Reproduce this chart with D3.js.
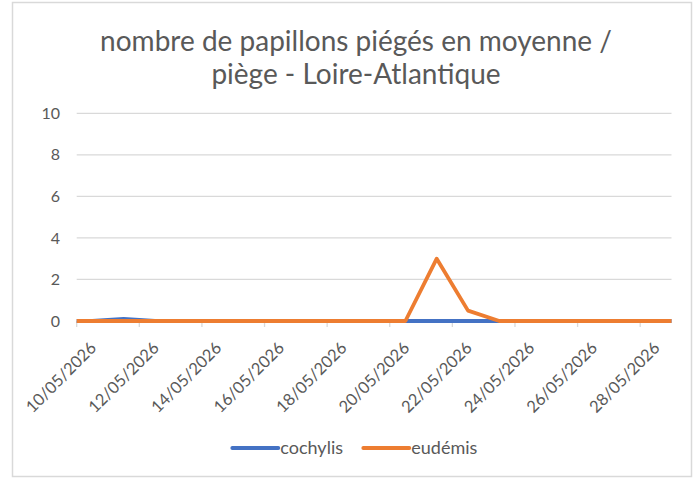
<!DOCTYPE html>
<html>
<head>
<meta charset="utf-8">
<script src="https://cdn.jsdelivr.net/npm/d3@7"></script>
<style>
  body { margin: 0; background: #fff; }
  svg text { font-family: Lato, "Noto Sans", sans-serif; fill: #595959; }
</style>
</head>
<body>
<div id="chart"></div>
<script>
// Data
var dates = ["10/05/2026","11/05/2026","12/05/2026","13/05/2026","14/05/2026","15/05/2026",
  "16/05/2026","17/05/2026","18/05/2026","19/05/2026","20/05/2026","21/05/2026","22/05/2026",
  "23/05/2026","24/05/2026","25/05/2026","26/05/2026","27/05/2026","28/05/2026"];
var cochylis = [0,0.1,0,0,0,0,0,0,0,0,0,0,0,0,0,0,0,0,0];
var eudemis  = [0,0,0,0,0,0,0,0,0,0,0,3,0.5,0,0,0,0,0,0];
var yTicks = [0,2,4,6,8,10];
var seriesNames = ["cochylis","eudémis"];
var colors = ["#4472C4","#ED7D31"];

var W = 696, H = 479;
var plot = {left: 76.7, right: 671.5, top: 113.3, bottom: 321};

var svg = d3.select("#chart").append("svg")
  .attr("width", W).attr("height", H);

// chart frame
svg.append("rect")
  .attr("x", 12.5).attr("y", 2.5)
  .attr("width", 679).attr("height", 474)
  .attr("fill", "#fff").attr("stroke", "#D9D9D9").attr("stroke-width", 1.5);

// title
var title = svg.append("text")
  .attr("text-anchor", "middle")
  .style("font-size", "28px");
title.append("tspan").attr("x", 356).attr("y", 51).text("nombre de papillons piégés en moyenne /");
title.append("tspan").attr("x", 356).attr("y", 84).text("piège - Loire-Atlantique");

var x = d3.scaleBand()
  .domain(dates)
  .range([plot.left, plot.right])
  .padding(0);

var y = d3.scaleLinear()
  .domain([0, 10])
  .range([plot.bottom, plot.top]);

// gridlines
svg.append("g")
  .selectAll("line")
  .data(yTicks)
  .enter().append("line")
    .attr("x1", plot.left).attr("x2", plot.right)
    .attr("y1", d => y(d)).attr("y2", d => y(d))
    .attr("stroke", "#D9D9D9").attr("stroke-width", 1.3);

// y labels
svg.append("g")
  .selectAll("text")
  .data(yTicks)
  .enter().append("text")
    .attr("x", 60)
    .attr("y", d => y(d))
    .attr("dy", "0.35em")
    .attr("text-anchor", "end")
    .style("font-size", "16px")
    .text(d => d);

// x ticks every 2 days at category boundaries
var labelled = dates.filter((d, i) => i % 2 === 0);
svg.append("g")
  .selectAll("line")
  .data(labelled)
  .enter().append("line")
    .attr("x1", d => x(d)).attr("x2", d => x(d))
    .attr("y1", plot.bottom).attr("y2", plot.bottom + 6)
    .attr("stroke", "#D9D9D9").attr("stroke-width", 1.3);

svg.append("g")
  .selectAll("text")
  .data(labelled)
  .enter().append("text")
    .attr("text-anchor", "end")
    .attr("transform", d => `translate(${x(d) + x.bandwidth() / 2 + 5},${plot.bottom + 28}) rotate(-45)`)
    .style("font-size", "16.5px")
    .text(d => d);

// lines: Excel date axis runs the line out to the plot edges
function linePoints(vals) {
  var pts = vals.map((v, i) => [x(dates[i]) + x.bandwidth() / 2, y(v)]);
  pts.unshift([plot.left, y(vals[0])]);
  pts.push([plot.right, y(vals[vals.length - 1])]);
  return pts;
}
var line = d3.line();
[cochylis, eudemis].forEach(function(vals, k) {
  svg.append("path")
    .attr("d", line(linePoints(vals)))
    .attr("fill", "none")
    .attr("stroke", colors[k])
    .attr("stroke-width", 3.8)
    .attr("stroke-linejoin", "round");
});

// legend
var legendX = [232.3, 363.3];
seriesNames.forEach(function(name, k) {
  var g = svg.append("g").attr("transform", `translate(${legendX[k]},448)`);
  g.append("line")
    .attr("x1", 0).attr("x2", 46)
    .attr("stroke", colors[k]).attr("stroke-width", 3.8)
    .attr("stroke-linecap", "round");
  g.append("text")
    .attr("x", 48).attr("dy", "0.35em")
    .style("font-size", "18px")
    .text(name);
});
</script>
</body>
</html>
